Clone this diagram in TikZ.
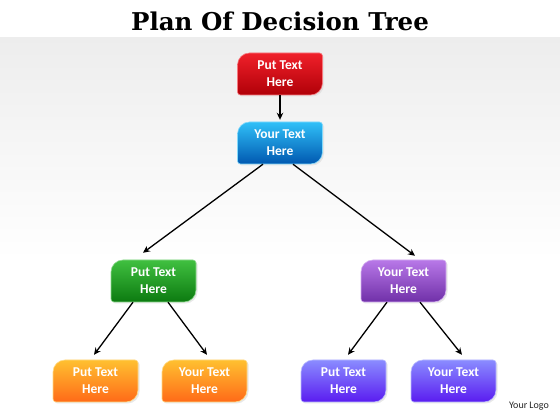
\documentclass[tikz,border=0pt]{standalone}
\usepackage{fontspec}
\setmainfont{Carlito}
\newfontfamily\titlefont{DejaVu Serif}
\usetikzlibrary{arrows.meta}
\tikzset{
  boxtext/.style={minimum width=85pt,minimum height=42pt,text=white,align=center,
    font=\bfseries\fontsize{13.5}{17}\selectfont,inner sep=0pt},
  arr/.style={draw=black,line width=1.3pt,-{Stealth[length=7pt,width=6.5pt]}},
}
\newcommand\dbox[6]{%
  \begin{scope}[shift={(#2,#3)}]
    \fill[gray!30,opacity=0.6] (-29,19.5) -- (41,19.5) arc[start angle=90,end angle=0,radius=3] -- (44,-10.5) arc[start angle=0,end angle=-90,radius=12] -- (-38,-22.5) arc[start angle=270,end angle=180,radius=3] -- (-41,7.5) arc[start angle=180,end angle=90,radius=12] -- cycle;
    \shade[top color=#4,bottom color=#5,draw=#4!60!white,line width=0.6pt] (-30.5,21) -- (39.5,21) arc[start angle=90,end angle=0,radius=3] -- (42.5,-9) arc[start angle=0,end angle=-90,radius=12] -- (-39.5,-21) arc[start angle=270,end angle=180,radius=3] -- (-42.5,9) arc[start angle=180,end angle=90,radius=12] -- cycle;
  \end{scope}
  \node[boxtext] (#1) at (#2,#3) {#6};
}
\definecolor{redT}{HTML}{F0202A}\definecolor{redB}{HTML}{B00008}
\definecolor{bluT}{HTML}{30C0F8}\definecolor{bluB}{HTML}{0058B0}
\definecolor{grnT}{HTML}{40C040}\definecolor{grnB}{HTML}{0C7A10}
\definecolor{purT}{HTML}{B878E8}\definecolor{purB}{HTML}{7030A8}
\definecolor{orgT}{HTML}{FFC030}\definecolor{orgB}{HTML}{FF6A18}
\definecolor{vioT}{HTML}{8A8CFF}\definecolor{vioB}{HTML}{5A1CF0}
\begin{document}
\begin{tikzpicture}[x=1pt,y=1pt]
\useasboundingbox (0,0) rectangle (560,420);
\fill[white] (0,0) rectangle (560,420);
\shade[top color=gray!14,bottom color=white] (0,160) rectangle (560,382);
\node[font=\titlefont\bfseries\fontsize{24.5}{28}\selectfont] (title) at (280,399) {Plan Of Decision Tree};
\dbox{r}{280}{346}{redT}{redB}{Put Text\\Here}
\dbox{b}{280}{277}{bluT}{bluB}{Your Text\\Here}
\dbox{g}{153.5}{139}{grnT}{grnB}{Put Text\\Here}
\dbox{p}{403.5}{139}{purT}{purB}{Your Text\\Here}
\dbox{o1}{95.5}{39}{orgT}{orgB}{Put Text\\Here}
\dbox{o2}{204.5}{39}{orgT}{orgB}{Your Text\\Here}
\dbox{v1}{343.5}{39}{vioT}{vioB}{Put Text\\Here}
\dbox{v2}{453.5}{39}{vioT}{vioB}{Your Text\\Here}
\draw[arr] (r.south) -- ([yshift=2pt]b.north);
\draw[arr] ([xshift=-17pt]b.south) -- ([xshift=-10.5pt,yshift=7pt]g.north);
\draw[arr] ([xshift=13pt]b.south) -- ([xshift=11.5pt,yshift=4pt]p.north);
\draw[arr] ([xshift=-20.5pt]g.south) -- ([xshift=-1.5pt,yshift=5pt]o1.north);
\draw[arr] ([xshift=14.5pt]g.south) -- ([xshift=2.5pt,yshift=5pt]o2.north);
\draw[arr] ([xshift=-16.5pt]p.south) -- ([xshift=4.5pt,yshift=5pt]v1.north);
\draw[arr] ([xshift=16.5pt]p.south) -- ([xshift=8.5pt,yshift=5pt]v2.north);
\node[font=\fontsize{10}{12}\selectfont,text=black!85] (logo) at (529,14) {Your Logo};
\end{tikzpicture}
\end{document}
